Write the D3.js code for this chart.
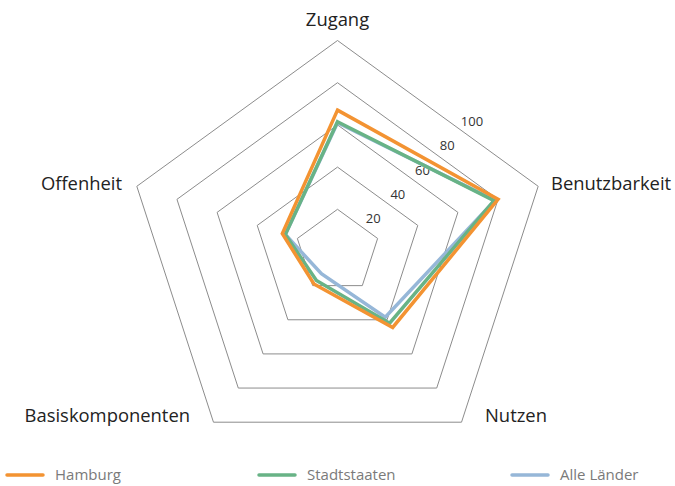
<!DOCTYPE html>
<html>
<head>
<meta charset="utf-8">
<script src="https://cdn.jsdelivr.net/npm/d3@7"></script>
<style>
  html, body { margin: 0; padding: 0; background: #fff; }
  svg { display: block; font-family: "Open Sans", "Noto Sans", sans-serif; }
</style>
</head>
<body>
<svg id="chart" width="675" height="486"></svg>
<script>
// Axes of the radar, clockwise from the top
const categories = ["Zugang", "Benutzbarkeit", "Nutzen", "Basiskomponenten", "Offenheit"];
const ticks = [20, 40, 60, 80, 100];

const seriesNames = ["Hamburg", "Stadtstaaten", "Alle Länder"];
const hamburg      = [67, 80, 44.5, 19, 27.5];
const stadtstaaten = [61.5, 78, 42, 17, 26];
const alleLaender  = [61, 78.5, 38.5, 13, 26];
const seriesColors = ["#F39332", "#68B386", "#96B7D8"];

const series = [
  { name: seriesNames[0], values: hamburg, color: seriesColors[0] },
  { name: seriesNames[1], values: stadtstaaten, color: seriesColors[1] },
  { name: seriesNames[2], values: alleLaender, color: seriesColors[2] }
];

const svg = d3.select("#chart");
const cx = 337.5, cy = 251.5, R = 211;

const r = d3.scaleLinear().domain([0, 100]).range([0, R]);
const angle = d3.scalePoint().domain(categories).range([0, 2 * Math.PI * 4 / 5]);

const pt = (cat, v) => {
  const a = angle(cat);
  return [cx + r(v) * Math.sin(a), cy - r(v) * Math.cos(a)];
};

// Pentagon grid rings
const g = svg.append("g");
g.selectAll("polygon.ring")
  .data(ticks)
  .join("polygon")
  .attr("class", "ring")
  .attr("points", t => categories.map(c => pt(c, t).join(",")).join(" "))
  .attr("fill", "none")
  .attr("stroke", "#8c8c8c")
  .attr("stroke-width", 1);

// Value labels laid out along a diagonal to the upper right
g.selectAll("text.tick")
  .data(ticks)
  .join("text")
  .attr("class", "tick")
  .attr("x", t => cx + 11 + r(t) * 0.585)
  .attr("y", t => cy - 9 - r(t) * 0.575 + 5)
  .attr("text-anchor", "middle")
  .attr("font-size", 13)
  .attr("fill", "#333")
  .text(d => d);

// Category labels
const labelPos = {
  "Zugang":           { x: 337.5, y: 26, anchor: "middle" },
  "Benutzbarkeit":    { x: 551, y: 190, anchor: "start" },
  "Nutzen":           { x: 485, y: 422, anchor: "start" },
  "Basiskomponenten": { x: 190, y: 422, anchor: "end" },
  "Offenheit":        { x: 122, y: 190, anchor: "end" }
};
g.selectAll("text.cat")
  .data(categories)
  .join("text")
  .attr("class", "cat")
  .attr("x", d => labelPos[d].x)
  .attr("y", d => labelPos[d].y)
  .attr("text-anchor", d => labelPos[d].anchor)
  .attr("font-size", 18.4)
  .attr("fill", "#222")
  .text(d => d);

// Series outlines, drawn so Hamburg ends up on top
const line = d3.line().curve(d3.curveLinearClosed);
svg.append("g")
  .selectAll("path.series")
  .data(series.slice().reverse())
  .join("path")
  .attr("class", "series")
  .attr("d", s => line(categories.map((c, i) => pt(c, s.values[i]))))
  .attr("fill", "none")
  .attr("stroke", s => s.color)
  .attr("stroke-width", 3.5)
  .attr("stroke-linejoin", "miter");

// Legend
const legendX = [7, 259, 512];
const lg = svg.append("g");
const items = lg.selectAll("g.item")
  .data(series)
  .join("g")
  .attr("class", "item")
  .attr("transform", (d, i) => `translate(${legendX[i]},475)`);
items.append("line")
  .attr("x1", 0).attr("x2", 36)
  .attr("y1", 0).attr("y2", 0)
  .attr("stroke", d => d.color)
  .attr("stroke-width", 3.5)
  .attr("stroke-linecap", "round");
items.append("text")
  .attr("x", 48)
  .attr("y", 5)
  .attr("font-size", 15)
  .attr("fill", "#7a7a7a")
  .text(d => d.name);
</script>
</body>
</html>
